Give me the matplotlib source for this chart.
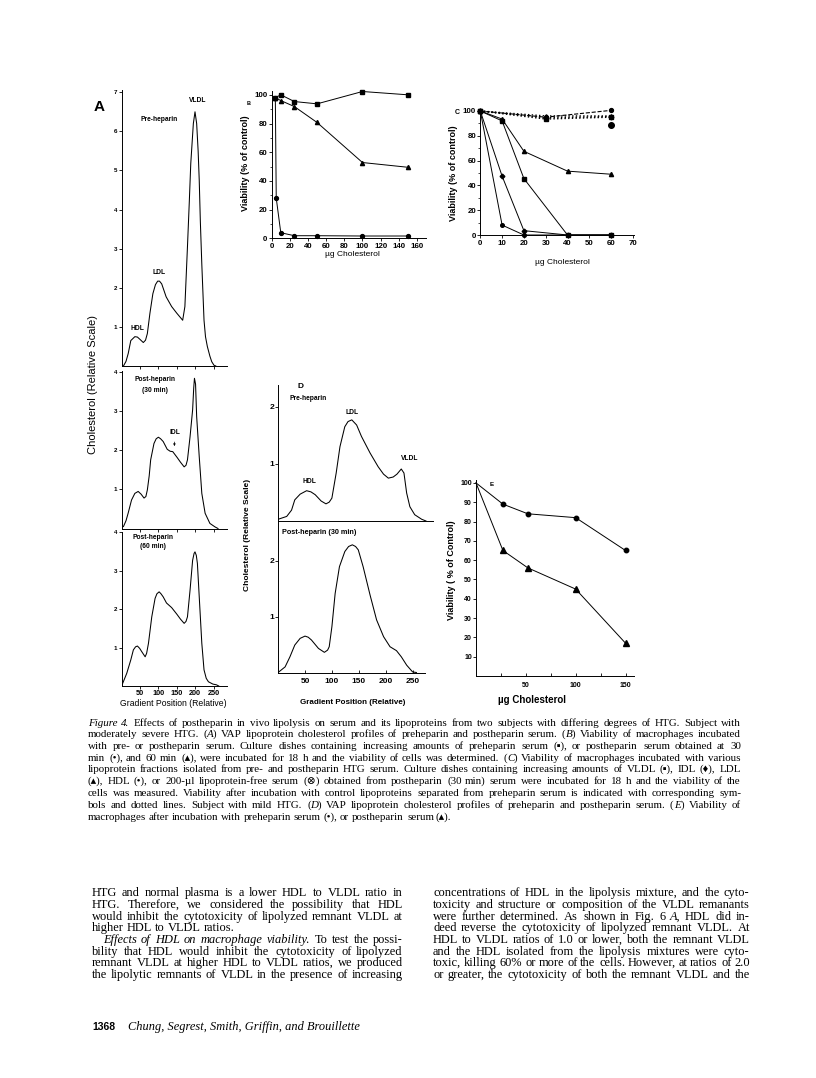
import matplotlib
matplotlib.use('Agg')
import matplotlib.pyplot as plt
from matplotlib.transforms import IdentityTransform

W, H = 816, 1078

# ---- A: VAP cholesterol profiles, subject with moderately severe HTG ----
a_pre_x = [5, 12, 18, 25, 36, 43, 50, 59, 65, 70, 77, 85, 92, 98, 103, 109, 121, 136, 150, 166,
           172, 179, 184, 188, 195, 199.5, 204, 208, 211, 214, 218, 224, 228, 233, 240, 245, 251, 256]
a_pre_y = [0, 0.12, 0.32, 0.65, 0.75, 0.74, 0.68, 0.6, 0.66, 0.83, 1.35, 1.85, 2.08, 2.17, 2.17, 2.1,
           1.77, 1.52, 1.35, 1.17, 1.52, 3.05, 4.2, 5.18, 6.2, 6.5, 6.2, 5.5, 4.75, 3.7, 2.6, 1.17,
           0.75, 0.5, 0.25, 0.11, 0.02, 0]
a_30_x = [5, 12, 18, 27, 36, 45, 53, 61, 66, 70, 75, 79, 88, 94, 100, 106, 113, 124, 132, 139, 151,
          160, 170, 175, 179, 186, 193, 196, 198, 201, 204, 211, 218, 227, 240, 254, 262]
a_30_y = [0.05, 0.2, 0.4, 0.73, 0.9, 0.95, 0.88, 0.78, 0.82, 0.99, 1.35, 1.76, 2.18, 2.3, 2.34, 2.3,
          2.23, 2.03, 1.98, 1.97, 1.82, 1.7, 1.58, 1.62, 1.76, 2.35, 3.04, 3.6, 3.85, 3.7, 2.87, 1.84,
          0.9, 0.39, 0.13, 0.04, 0]
a_60_x = [0, 14, 25, 32, 38, 43, 49, 55, 64, 68, 73, 82, 91, 96, 102, 107, 113, 122, 136, 150, 160,
          170, 175, 179, 186, 193, 197, 199.5, 203, 206, 211, 218, 224, 230, 236, 248, 258, 264]
a_60_y = [0, 0.33, 0.68, 0.94, 1.02, 1.04, 0.98, 0.89, 0.76, 0.85, 1.11, 1.8, 2.28, 2.4, 2.45, 2.4,
          2.32, 2.16, 2.04, 1.87, 1.74, 1.63, 1.68, 1.8, 2.49, 3.27, 3.45, 3.49, 3.4, 3.19, 2.32, 1.11,
          0.42, 0.2, 0.11, 0.05, 0.03, 0]

# ---- B: viability with pre- / postheparin serum ----
b_pre_x = [4, 10, 25, 50, 100, 150]
b_pre_y = [98, 100, 95.3, 93.7, 102.3, 100]
b_30_x = [4, 5, 10, 25, 50, 100, 150]
b_30_y = [98, 28, 3.9, 1.8, 1.8, 1.6, 1.6]
b_60_x = [4, 10, 25, 50, 100, 150]
b_60_y = [98, 96, 91.8, 80.7, 52.8, 49.5]

# ---- C: viability with lipoprotein fractions ----
c_x = [0, 10, 20, 40, 60]
c_vldl = [100, 92, 45.5, 0, 0]
c_idl = [100, 47.5, 3.5, 0, 0]
c_ldl = [100, 93.5, 67.5, 51.5, 49]
c_hdl = [100, 8, 0, 0, 0]
c_ctl_x = [0, 30, 60]
c_ctl_vldl = [100, 93.5, 95]
c_ctl_idl = [100, 94.5, 95.5]
c_ctl_ldl = [100, 96, 96]
c_ctl_hdl = [100, 95, 100.5]
c_lpds_x = [60]
c_lpds_y = [88.5]

# ---- D: VAP profiles, subject with mild HTG ----
d_pre_x = [0, 16, 25, 31, 41, 53, 61, 69, 80, 89, 95, 100, 108, 115, 124, 130, 137, 146, 155, 171,
           186, 196, 205, 214, 221, 229, 234, 239, 245, 254, 267, 275]
d_pre_y = [0.03, 0.08, 0.19, 0.37, 0.47, 0.53, 0.51, 0.46, 0.35, 0.3, 0.33, 0.4, 0.84, 1.3, 1.65,
           1.74, 1.77, 1.68, 1.48, 1.19, 0.95, 0.82, 0.75, 0.77, 0.82, 0.91, 0.84, 0.49, 0.25, 0.11,
           0.03, 0]
d_post_x = [0, 13, 22, 31, 41, 50, 56, 62, 75, 86, 92, 95, 100, 106, 114, 124, 131, 138, 144, 149,
            158, 171, 183, 196, 208, 220, 229, 239, 250, 257]
d_post_y = [0, 0.1, 0.28, 0.49, 0.61, 0.65, 0.63, 0.58, 0.43, 0.36, 0.4, 0.46, 0.82, 1.41, 1.89,
            2.16, 2.25, 2.28, 2.25, 2.19, 1.89, 1.38, 0.94, 0.64, 0.46, 0.39, 0.28, 0.13, 0.01, 0]

# ---- E: viability, mild HTG ----
e_x = [0, 27, 52, 100, 150]
e_pre = [100, 89, 84, 82, 65]
e_post = [100, 65, 56, 45, 17]

# ---- text ----
caption = [
    "*Figure 4.* Effects of postheparin in vivo lipolysis on serum and its lipoproteins from two subjects with differing degrees of HTG. Subject with",
    "moderately severe HTG. (*A*) VAP lipoprotein cholesterol profiles of preheparin and postheparin serum. (*B*) Viability of macrophages incubated",
    "with pre- or postheparin serum. Culture dishes containing increasing amounts of preheparin serum (\u25aa), or postheparin serum obtained at 30",
    "min (\u2022), and 60 min (\u25b4), were incubated for 18 h and the viability of cells was determined. (*C*) Viability of macrophages incubated with various",
    "lipoprotein fractions isolated from pre- and postheparin HTG serum. Culture dishes containing increasing amounts of VLDL (\u25aa), IDL (\u2666), LDL",
    "(\u25b4), HDL (\u2022), or 200-\u00b5l lipoprotein-free serum (\u2297) obtained from postheparin (30 min) serum were incubated for 18 h and the viability of the",
    "cells was measured. Viability after incubation with control lipoproteins separated from preheparin serum is indicated with corresponding sym-",
    "bols and dotted lines. Subject with mild HTG. (*D*) VAP lipoprotein cholesterol profiles of preheparin and postheparin serum. (*E*) Viability of",
    "macrophages after incubation with preheparin serum (\u2022), or postheparin serum (\u25b4).",
]
body_left = [
    "HTG and normal plasma is a lower HDL to VLDL ratio in",
    "HTG. Therefore, we considered the possibility that HDL",
    "would inhibit the cytotoxicity of lipolyzed remnant VLDL at",
    "higher HDL to VLDL ratios.",
    "*Effects of HDL on macrophage viability.* To test the possi-",
    "bility that HDL would inhibit the cytotoxicity of lipolyzed",
    "remnant VLDL at higher HDL to VLDL ratios, we produced",
    "the lipolytic remnants of VLDL in the presence of increasing",
]
body_right = [
    "concentrations of HDL in the lipolysis mixture, and the cyto-",
    "toxicity and structure or composition of the VLDL remanants",
    "were further determined. As shown in Fig. 6 *A,* HDL did in-",
    "deed reverse the cytotoxicity of lipolyzed remnant VLDL. At",
    "HDL to VLDL ratios of 1.0 or lower, both the remnant VLDL",
    "and the HDL isolated from the lipolysis mixtures were cyto-",
    "toxic, killing 60% or more of the cells. However, at ratios of 2.0",
    "or greater, the cytotoxicity of both the remnant VLDL and the",
]

SANS = ['Liberation Sans', 'DejaVu Sans']
SERIF = ['Liberation Serif', 'DejaVu Serif', 'DejaVu Sans']
plt.rcParams['font.family'] = SANS
plt.rcParams['font.weight'] = 'bold'
plt.rcParams['axes.linewidth'] = 0.7

fig = plt.figure(figsize=(W / 100, H / 100), dpi=100)
fig.patch.set_facecolor('white')
renderer = fig.canvas.get_renderer()


def rect(l, t, r, b):
    return [l / W, 1 - b / H, (r - l) / W, (b - t) / H]


def ftext(x, y, s, **kw):
    kw.setdefault('ha', 'center')
    kw.setdefault('va', 'center')
    return fig.text(x / W, 1 - y / H, s, **kw)


def style(ax, xlim, ylim, fs, xdir='out', ydir='out'):
    ax.set_xlim(*xlim)
    ax.set_ylim(*ylim)
    ax.patch.set_visible(False)
    ax.spines['top'].set_visible(False)
    ax.spines['right'].set_visible(False)
    ax.tick_params(axis='x', direction=xdir, length=2, width=0.6, pad=1.5, labelsize=fs)
    ax.tick_params(axis='y', direction=ydir, length=2, width=0.6, pad=1, labelsize=fs)


LW = 0.75

# ---------- panel A ----------
axA1 = fig.add_axes(rect(121.6, 90.3, 227.2, 366))
axA1.plot(a_pre_x, a_pre_y, color='black', lw=LW)
style(axA1, (0, 287), (0, 7.05), 4.5)
axA1.set_yticks([1, 2, 3, 4, 5, 6, 7])
axA1.set_xticks([50, 100, 150, 200, 250])
axA1.tick_params(axis='x', labelbottom=False)

axA2 = fig.add_axes(rect(121.6, 370.5, 227.2, 528.5))
axA2.plot(a_30_x, a_30_y, color='black', lw=LW)
style(axA2, (0, 287), (0, 4.05), 4.5)
axA2.set_yticks([1, 2, 3, 4])
axA2.set_xticks([50, 100, 150, 200, 250])
axA2.tick_params(axis='x', labelbottom=False)
axA2.annotate('IDL', xy=(143, 2.04), xytext=(145, 2.36), ha='center', va='bottom',
              fontsize=4.8, arrowprops=dict(arrowstyle='-|>', lw=0.5, mutation_scale=3, color='black'))

axA3 = fig.add_axes(rect(121.6, 531.5, 227.2, 686))
axA3.plot(a_60_x, a_60_y, color='black', lw=LW)
style(axA3, (0, 287), (0, 4.02), 4.5)
axA3.set_yticks([1, 2, 3, 4])
axA3.set_xticks([50, 100, 150, 200, 250])
axA3.tick_params(axis='x', labelsize=5.2, pad=1)

ftext(99, 107, 'A', fontsize=11)
ftext(198, 101, 'VLDL', fontsize=4.8)
ftext(159, 120, 'Pre-heparin', fontsize=4.8)
ftext(159, 272, 'LDL', fontsize=4.8)
ftext(137, 328, 'HDL', fontsize=4.8)
ftext(155, 380, 'Post-heparin', fontsize=4.8)
ftext(155, 391, '(30 min)', fontsize=4.8)
ftext(153, 537, 'Post-heparin', fontsize=4.8)
ftext(153, 547, '(60 min)', fontsize=4.8)
ftext(173, 703, 'Gradient Position (Relative)', fontsize=6.2, weight='normal')
ftext(93, 384, 'Cholesterol (Relative Scale)', fontsize=8, weight='normal', rotation=90)

# ---------- panel B ----------
axB = fig.add_axes(rect(271.7, 90.5, 426, 238.3))
mk = dict(color='black', lw=0.7, clip_on=False)
axB.plot(b_pre_x, b_pre_y, marker='s', ms=2.8, **mk)
axB.plot(b_60_x, b_60_y, marker='^', ms=3.0, **mk)
axB.plot(b_30_x, b_30_y, marker='o', ms=2.8, **mk)
style(axB, (0, 170), (0, 103), 5.7)
axB.set_xticks(range(0, 161, 20))
axB.set_yticks(range(0, 101, 20))
axB.set_yticks(range(10, 101, 20), minor=True)
axB.tick_params(axis='y', which='minor', length=1.5, width=0.5)
ftext(249, 103, 'B', fontsize=4)
ftext(245, 163, 'Viability (% of control)', fontsize=6.5, rotation=90)
ftext(352, 255, '\u00b5g Cholesterol', fontsize=6, weight='normal')

# ---------- panel C ----------
axC = fig.add_axes(rect(480.3, 108.5, 634, 235))
axC.plot(c_ctl_x, c_ctl_vldl, ls=':', marker='s', ms=2.6, **dict(mk, lw=1.0))
axC.plot(c_ctl_x, c_ctl_idl, ls=':', marker='D', ms=2.4, **dict(mk, lw=1.0))
axC.plot(c_ctl_x, c_ctl_ldl, ls=':', marker='^', ms=2.6, **dict(mk, lw=1.0))
axC.plot(c_ctl_x, c_ctl_hdl, ls='--', marker='o', ms=2.8, **dict(mk, lw=0.8))
axC.plot(c_lpds_x, c_lpds_y, ls='none', marker=r'$\otimes$', ms=4, color='black', clip_on=False)
axC.plot(c_x, c_ldl, marker='^', ms=3.0, **mk)
axC.plot(c_x, c_vldl, marker='s', ms=2.6, **mk)
axC.plot(c_x, c_idl, marker='D', ms=2.4, **mk)
axC.plot(c_x, c_hdl, marker='o', ms=2.6, **mk)
style(axC, (0, 70.5), (0, 102), 5.7)
axC.set_xticks(range(0, 71, 10))
axC.set_yticks(range(0, 101, 20))
axC.set_yticks(range(10, 101, 20), minor=True)
axC.tick_params(axis='y', which='minor', length=1.5, width=0.5)
ftext(457, 112, 'C', fontsize=5)
ftext(453, 173, 'Viability (% of control)', fontsize=6.5, rotation=90)
ftext(562, 262, '\u00b5g Cholesterol', fontsize=6, weight='normal')

# ---------- panel D ----------
axD1 = fig.add_axes(rect(278.1, 385, 433, 521))
axD1.plot(d_pre_x, d_pre_y, color='black', lw=LW)
style(axD1, (0, 288), (0, 2.38), 6)
axD1.set_yticks([1, 2])
axD1.tick_params(axis='x', length=0, labelbottom=False)

axD2 = fig.add_axes(rect(278.1, 521.3, 425, 672.5))
axD2.plot(d_post_x, d_post_y, color='black', lw=LW)
style(axD2, (0, 273), (0, 2.7), 6, xdir='in')
axD2.set_yticks([1, 2])
axD2.set_xticks([50, 100, 150, 200, 250])
axD2.tick_params(axis='x', pad=4)

ftext(300, 386, 'D', fontsize=6)
ftext(290, 399, 'Pre-heparin', fontsize=4.8, ha='left')
ftext(352, 412, 'LDL', fontsize=4.8)
ftext(309, 481, 'HDL', fontsize=4.8)
ftext(410, 459, 'VLDL', fontsize=4.8)
ftext(282, 533, 'Post-heparin (30 min)', fontsize=5.2, ha='left')
ftext(248, 535, 'Cholesterol (Relative Scale)', fontsize=6, rotation=90)
ftext(353, 703, 'Gradient Position (Relative)', fontsize=5.8)

# ---------- panel E ----------
axE = fig.add_axes(rect(476, 480, 633.5, 676))
axE.plot(e_x, e_pre, marker='o', ms=3.2, markevery=[1, 2, 3, 4], **mk)
axE.plot(e_x, e_post, marker='^', ms=3.8, markevery=[1, 2, 3, 4], **mk)
style(axE, (0, 158), (0, 101.5), 5, xdir='in')
axE.set_yticks(range(10, 101, 10))
axE.set_xticks([25, 50, 75, 100, 125, 150])
axE.set_xticklabels(['', '50', '', '100', '', '150'])
axE.tick_params(axis='x', pad=4)
ftext(492, 485, 'E', fontsize=4.5)
ftext(452, 570, 'Viability ( % of Control)', fontsize=6.5, rotation=90)
ftext(532, 700, '\u00b5g Cholesterol', fontsize=7)


# ---------- justified text ----------
def text_line(line, x0, x1, y, size, justify=True, ital=False):
    words = []
    for w in line.split(' '):
        pieces = []
        for k, p in enumerate(w.split('*')):
            if k:
                ital = not ital
            if p:
                pieces.append((p, ital))
        words.append(pieces)
    rows, widths = [], []
    for pieces in words:
        row, tot = [], 0
        for p, it in pieces:
            t = fig.text(0, 0, p, fontsize=size, family=SERIF, weight='normal',
                         style='italic' if it else 'normal', va='baseline', ha='left',
                         transform=IdentityTransform())
            bw = t.get_window_extent(renderer).width
            row.append((t, bw))
            tot += bw
        rows.append(row)
        widths.append(tot)
    gap = size * 0.25 * 100 / 72
    if justify and len(words) > 1:
        gap = (x1 - x0 - sum(widths)) / (len(words) - 1)
    x = x0
    yb = round(H - y)
    for row in rows:
        for t, bw in row:
            t.set_position((round(x), yb))
            x += bw
        x += gap
    return ital


for i, line in enumerate(caption):
    text_line(line, 88, 741, 725.5 + i * 11.75, 7.9, justify=i < len(caption) - 1)

for i, line in enumerate(body_left):
    x0 = 103 if i == 4 else 92
    text_line(line, x0, 403, 896.5 + i * 11.65, 8.9, justify=i != 3)
for i, line in enumerate(body_right):
    text_line(line, 433, 750, 896.5 + i * 11.65, 8.9)

ftext(92, 1027, '1368', fontsize=7.5, ha='left')
ftext(128, 1027, 'Chung, Segrest, Smith, Griffin, and Brouillette', fontsize=8.9, ha='left',
      family=SERIF, weight='normal', style='italic')

fig.savefig('out.png', dpi=100, facecolor='white')
